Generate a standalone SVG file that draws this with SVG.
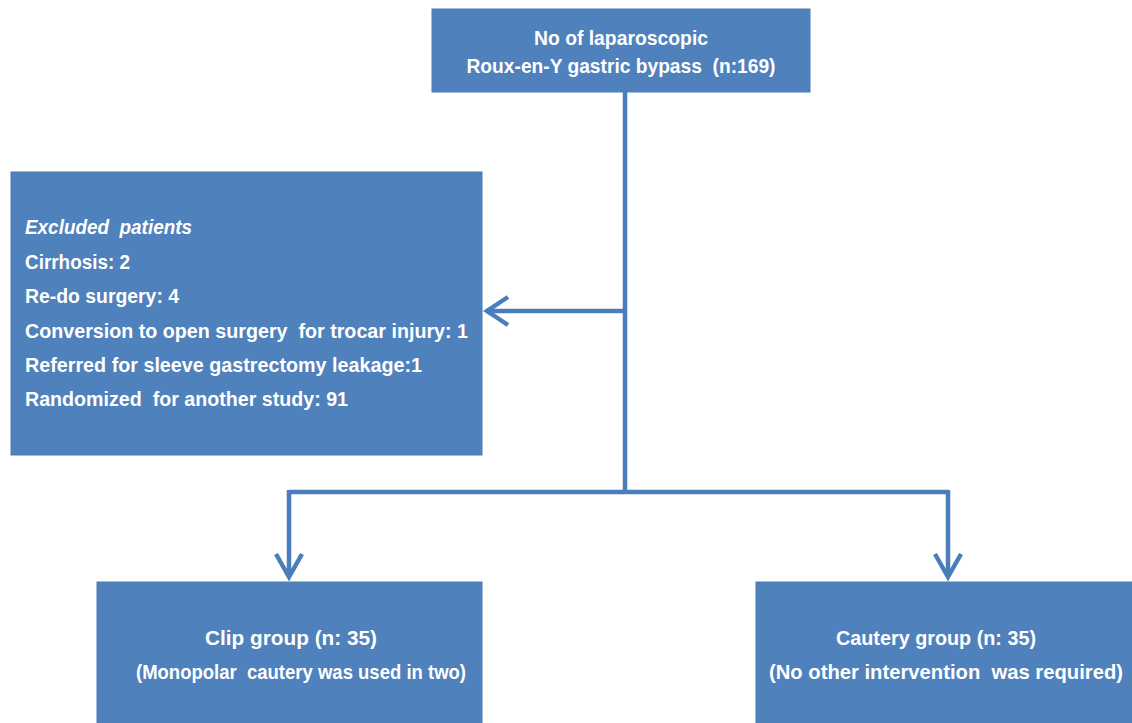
<svg xmlns="http://www.w3.org/2000/svg" width="1132" height="723" viewBox="0 0 1132 723">
<style>
.box{fill:#4F81BD;stroke:#4A7DB8;stroke-width:1}
.t{font-family:"Liberation Sans",Arial,sans-serif;font-weight:bold;fill:#fff;font-size:20.5px;white-space:pre}
.c{stroke:#4A7EBB;stroke-width:4.5;fill:none}
.h{stroke:#4A7EBB;stroke-width:4.5;fill:none;stroke-linejoin:miter}
</style>
<rect width="1132" height="723" fill="#fff"/>
<g id="connectors">
<path class="c" d="M625 92 V492 M289 492 H948 M625 311 H486 M289 490 V576 M948 490 V576"/>
<path class="h" d="M508 297 L487 311 L508 325"/>
<path class="h" d="M276 554 L289 577 L302 554"/>
<path class="h" d="M935 554 L948 577 L961 554"/>
</g>
<g id="top">
<rect class="box" x="432" y="9" width="378" height="83"/>
<text class="t" x="621" y="45" text-anchor="middle" textLength="174" lengthAdjust="spacingAndGlyphs">No of laparoscopic</text>
<text class="t" x="621" y="73" text-anchor="middle" textLength="309" lengthAdjust="spacingAndGlyphs">Roux-en-Y gastric bypass  (n:169)</text>
</g>
<g id="excluded">
<rect class="box" x="11" y="172" width="471" height="283"/>
<text class="t" x="25" y="234" font-style="italic" textLength="167" lengthAdjust="spacingAndGlyphs">Excluded  patients</text>
<text class="t" x="25" y="269" textLength="105" lengthAdjust="spacingAndGlyphs">Cirrhosis: 2</text>
<text class="t" x="25" y="303" textLength="154" lengthAdjust="spacingAndGlyphs">Re-do surgery: 4</text>
<text class="t" x="25" y="338" textLength="443" lengthAdjust="spacingAndGlyphs">Conversion to open surgery  for trocar injury: 1</text>
<text class="t" x="25" y="372" textLength="397" lengthAdjust="spacingAndGlyphs">Referred for sleeve gastrectomy leakage:1</text>
<text class="t" x="25" y="406" textLength="323" lengthAdjust="spacingAndGlyphs">Randomized  for another study: 91</text>
</g>
<g id="clip">
<rect class="box" x="97" y="582" width="385" height="145"/>
<text class="t" x="291" y="645" text-anchor="middle" textLength="172" lengthAdjust="spacingAndGlyphs">Clip group (n: 35)</text>
<text class="t" x="301" y="679" text-anchor="middle" textLength="330" lengthAdjust="spacingAndGlyphs">(Monopolar  cautery was used in two)</text>
</g>
<g id="cautery">
<rect class="box" x="756" y="582" width="380" height="145"/>
<text class="t" x="936" y="645" text-anchor="middle" textLength="200" lengthAdjust="spacingAndGlyphs">Cautery group (n: 35)</text>
<text class="t" x="946" y="679" text-anchor="middle" textLength="354" lengthAdjust="spacingAndGlyphs">(No other intervention  was required)</text>
</g>
</svg>
